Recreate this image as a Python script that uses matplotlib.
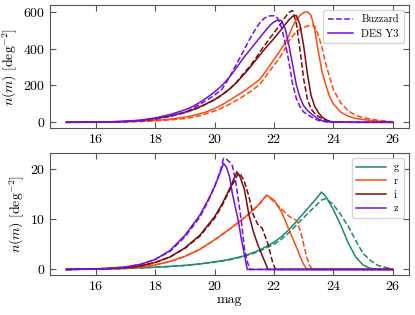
import numpy as np
import matplotlib
matplotlib.use("Agg")
import matplotlib.pyplot as plt

plt.rcParams["font.family"] = "serif"
plt.rcParams["font.serif"] = ["cmr10"]
plt.rcParams["mathtext.fontset"] = "cm"
plt.rcParams["axes.formatter.use_mathtext"] = True
plt.rcParams["font.size"] = 10

band_colors = {"g": "#1b8a6d", "r": "#ff4a10", "i": "#7d0b0b", "z": "#7012de"}

# ---- top panel: n(m) per deg^2 (r, i, z) ----
mag_top = [15, 15.5, 16, 16.5, 17, 17.5, 18, 18.5, 19, 19.25, 19.5, 19.75, 20, 20.25,
           20.5, 20.75,
           21, 21.125, 21.25, 21.375, 21.5, 21.625, 21.75, 21.875, 22, 22.125, 22.25,
           22.375, 22.5, 22.625, 22.75, 22.875, 23, 23.125, 23.25, 23.375, 23.5, 23.625,
           23.75, 23.875, 24,
           24.25, 24.5, 24.75, 25, 25.5, 26]

top_buzzard = {
    "r": [0, 0.2, 0.5, 1, 2, 4, 8, 13, 20, 27, 36, 48, 62, 78, 98, 120,
          145, 158, 172, 188, 203, 228, 255, 283, 310, 335, 365, 400, 440, 468, 490,
          505, 515, 522, 528, 522, 470, 400, 315, 245, 178,
          105, 62, 38, 25, 11, 3],
    "i": [0, 0.3, 1, 2, 4, 9, 18, 32, 52, 66, 82, 102, 122, 148, 180, 220,
          270, 292, 318, 345, 375, 405, 432, 460, 485, 512, 540, 570, 596, 606, 540,
          395, 235, 125, 72, 48, 32, 20, 11, 5, 2,
          1, 0.5, 0, 0, 0, 0],
    "z": [0, 0.3, 1, 2, 4, 8, 17, 33, 55, 75, 98, 122, 148, 180, 245, 320,
          395, 435, 470, 505, 535, 558, 572, 578, 578, 565, 515, 433, 330, 210, 130,
          85, 56, 42, 30, 18, 10, 5, 3, 1.5, 1,
          0.5, 0, 0, 0, 0, 0],
}
top_des = {
    "r": [0, 0.2, 0.5, 1.5, 3, 6, 10, 17, 28, 36, 46, 58, 75, 95, 120, 145,
          170, 185, 200, 215, 230, 255, 283, 312, 342, 370, 400, 430, 470, 520, 555,
          580, 595, 600, 580, 500, 380, 270, 200, 140, 100,
          55, 33, 21, 15, 6, 2],
    "i": [0, 0.3, 1, 2.5, 5, 10, 20, 35, 55, 68, 84, 103, 124, 150, 180, 218,
          262, 285, 310, 335, 360, 385, 410, 432, 455, 480, 505, 530, 555, 575, 580,
          530, 415, 265, 145, 85, 52, 28, 14, 6, 2,
          1, 0.5, 0, 0, 0, 0],
    "z": [0, 0.5, 1.5, 3, 6, 12, 24, 42, 68, 85, 108, 135, 165, 200, 245, 300,
          355, 380, 405, 430, 455, 480, 505, 528, 545, 554, 552, 510, 420, 315, 205,
          135, 90, 65, 47, 32, 18, 9, 4, 2, 1,
          0.5, 0, 0, 0, 0, 0],
}

# ---- bottom panel: n(m) per deg^2 per band ----
mag_g = [15, 15.5, 16, 16.5, 17, 17.5, 18, 18.5, 19, 19.5, 20, 20.5, 21, 21.5, 22, 22.25,
         22.5, 22.75, 23, 23.25, 23.5, 23.6, 23.75, 24, 24.25, 24.5, 24.75, 25, 25.25, 25.5, 26]
g_des = [0, 0.02, 0.05, 0.1, 0.2, 0.3, 0.45, 0.6, 0.8, 1.1, 1.5, 2.0, 2.7, 3.8, 5.4, 6.5,
         7.9, 9.5, 11.2, 12.9, 14.6, 15.4, 14.5, 11.9, 8.8, 5.3, 2.5, 0.9, 0.2, 0.05, 0]
g_buzzard = [0, 0.02, 0.05, 0.1, 0.2, 0.3, 0.45, 0.6, 0.8, 1.1, 1.45, 1.9, 2.6, 3.6, 5.0, 6.0,
             7.3, 8.8, 10.3, 11.8, 13.2, 13.8, 14.1, 12.9, 10.9, 8.6, 5.8, 3.2, 1.8, 0.8, 0.05]

mag_r = [15, 15.5, 16, 16.5, 17, 17.5, 18, 18.5, 19, 19.5, 20, 20.5, 21, 21.25, 21.5, 21.75,
         22, 22.25, 22.5, 22.75, 22.9, 23, 23.1, 23.2, 23.3, 23.5, 24, 25, 26]
r_des = [0, 0.03, 0.08, 0.15, 0.25, 0.5, 0.9, 1.6, 2.6, 4.0, 5.9, 8.0, 10.3, 11.6, 13.0, 14.8,
         13.8, 11.5, 8.0, 4.5, 2.3, 1.0, 0.1, 0, 0, 0, 0, 0, 0]
r_buzzard = [0, 0.03, 0.08, 0.15, 0.25, 0.5, 0.9, 1.6, 2.6, 4.0, 5.9, 8.0, 10.2, 11.5, 12.9, 14.7,
             13.5, 12.0, 10.6, 9.8, 7.5, 5.0, 2.5, 0.8, 0, 0, 0, 0, 0]

mag_i = [15, 15.5, 16, 16.5, 17, 17.5, 18, 18.5, 19, 19.5, 20, 20.25, 20.5, 20.75, 20.85,
         21, 21.15, 21.3, 21.45, 21.6, 21.8, 21.95, 22.05, 22.5, 23, 24, 25, 26]
i_des = [0, 0.05, 0.1, 0.2, 0.35, 0.7, 1.4, 2.5, 4.3, 6.8, 10.5, 13.0, 16.0, 19.4, 18.5,
         16.0, 11.0, 7.6, 5.0, 2.8, 0, 0, 0, 0, 0, 0, 0, 0]
i_buzzard = [0, 0.05, 0.1, 0.2, 0.35, 0.7, 1.4, 2.5, 4.2, 6.6, 10.2, 12.7, 15.7, 18.6, 19.2,
             17.5, 14.6, 10.9, 9.0, 8.2, 5.0, 1.5, 0, 0, 0, 0, 0, 0]

mag_z = [15, 15.5, 16, 16.5, 17, 17.5, 18, 18.5, 19, 19.5, 19.75, 20, 20.2, 20.3, 20.4,
         20.5, 20.6, 20.7, 20.8, 20.9, 21, 21.1, 21.2, 21.5, 22, 23, 24, 25, 26]
z_des = [0, 0.05, 0.1, 0.25, 0.5, 1.0, 2.0, 3.8, 6.8, 10.8, 13.5, 16.5, 19.5, 21.1, 20.3,
         18.5, 15.0, 12.3, 9.6, 6.0, 3.0, 0, 0, 0, 0, 0, 0, 0, 0]
z_buzzard = [0, 0.05, 0.1, 0.25, 0.5, 1.0, 2.0, 3.6, 6.5, 10.4, 13.2, 16.5, 19.8, 22.1, 21.9,
             21.4, 20.6, 17.8, 13.8, 9.6, 4.3, 1.5, 0, 0, 0, 0, 0, 0, 0]

bottom = {
    "g": (mag_g, g_buzzard, g_des),
    "r": (mag_r, r_buzzard, r_des),
    "i": (mag_i, i_buzzard, i_des),
    "z": (mag_z, z_buzzard, z_des),
}

fig = plt.figure(figsize=(4.15, 3.15), dpi=100)
ax1 = fig.add_axes([0.1205, 0.594, 0.865, 0.39])
ax2 = fig.add_axes([0.1205, 0.127, 0.865, 0.388])

lw = 1.1
for band in ["r", "i", "z"]:
    c = band_colors[band]
    lb, = ax1.plot(mag_top, top_buzzard[band], ls="--", color=c, lw=lw)
    ld, = ax1.plot(mag_top, top_des[band], ls="-", color=c, lw=lw)
ax1.legend([lb, ld], ["Buzzard", "DES Y3"], loc="upper right", fontsize=7.5,
           handlelength=2.4, borderpad=0.45, labelspacing=0.45)

handles = []
for band, (m, buz, des) in bottom.items():
    c = band_colors[band]
    ax2.plot(m, buz, ls="--", color=c, lw=lw)
    h, = ax2.plot(m, des, ls="-", color=c, lw=lw)
    handles.append(h)
ax2.legend(handles, list(bottom.keys()), loc="upper right", fontsize=7.5,
           handlelength=2.8, borderpad=0.45, labelspacing=0.4)

for ax in (ax1, ax2):
    ax.tick_params(direction="in", top=True, right=True, length=4, width=0.8,
                   color="#555555", labelsize=10)
    for s in ax.spines.values():
        s.set_color("#555555")
    ax.set_xticks([16, 18, 20, 22, 24, 26])
    ax.set_ylabel(r"$n(m)\ [\mathrm{deg}^{-2}]$", labelpad=2)

ax1.set_yticks([0, 200, 400, 600])
ax2.set_yticks([0, 10, 20])
ax2.set_xlabel("mag", labelpad=1)

fig.savefig("out.png", dpi=100)
